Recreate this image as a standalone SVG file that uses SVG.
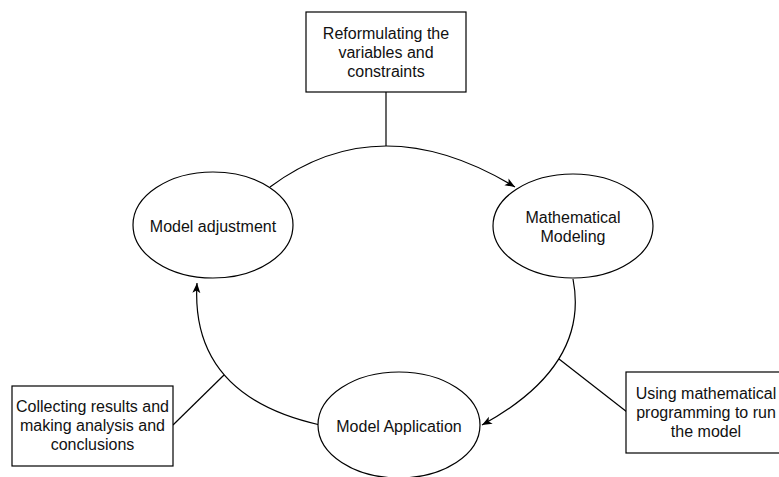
<svg xmlns="http://www.w3.org/2000/svg" width="779" height="477" viewBox="0 0 779 477">
<style>
.shape{fill:#fff;stroke:#000;stroke-width:1.2}
.edge{fill:none;stroke:#000;stroke-width:1.2}
text{font-family:"Liberation Sans",Arial,sans-serif;font-size:16px;fill:#111;text-anchor:middle;dominant-baseline:central}
</style>
<defs>
<marker id="arr" markerUnits="userSpaceOnUse" markerWidth="12" markerHeight="10" refX="10" refY="4" orient="auto">
<path d="M0,0 L10,4 L0,8 L2.5,4 Z" fill="#000"/>
</marker>
</defs>
<rect width="779" height="477" fill="#fff"/>
<g id="connectors">
<path class="edge" d="M270,187 Q380,105 515,187" marker-end="url(#arr)"/>
<path class="edge" d="M573,279 Q590,366 482,425" marker-end="url(#arr)"/>
<path class="edge" d="M320,425 Q190,396 197,283" marker-end="url(#arr)"/>
<line class="edge" x1="386" y1="92" x2="386" y2="146"/>
<line class="edge" x1="559" y1="359" x2="627" y2="412"/>
<line class="edge" x1="224" y1="375" x2="173" y2="425"/>
</g>
<g id="reformulating">
<rect class="shape" x="306" y="12" width="160" height="80"/>
<text x="386" y="33">Reformulating the</text>
<text x="386" y="52">variables and</text>
<text x="386" y="71">constraints</text>
</g>
<g id="model-adjustment">
<ellipse class="shape" cx="213" cy="225" rx="80" ry="53"/>
<text x="213" y="226">Model adjustment</text>
</g>
<g id="mathematical-modeling">
<ellipse class="shape" cx="573" cy="226" rx="80" ry="52"/>
<text x="573" y="217">Mathematical</text>
<text x="573" y="236">Modeling</text>
</g>
<g id="model-application">
<ellipse class="shape" cx="399" cy="425" rx="81" ry="53"/>
<text x="399" y="426">Model Application</text>
</g>
<g id="using-programming">
<rect class="shape" x="626" y="372" width="160" height="81"/>
<text x="706" y="393">Using mathematical</text>
<text x="706" y="412">programming to run</text>
<text x="706" y="431">the model</text>
</g>
<g id="collecting-results">
<rect class="shape" x="12" y="386" width="161" height="80"/>
<text x="92.5" y="406">Collecting results and</text>
<text x="92.5" y="425">making analysis and</text>
<text x="92.5" y="444">conclusions</text>
</g>
</svg>
